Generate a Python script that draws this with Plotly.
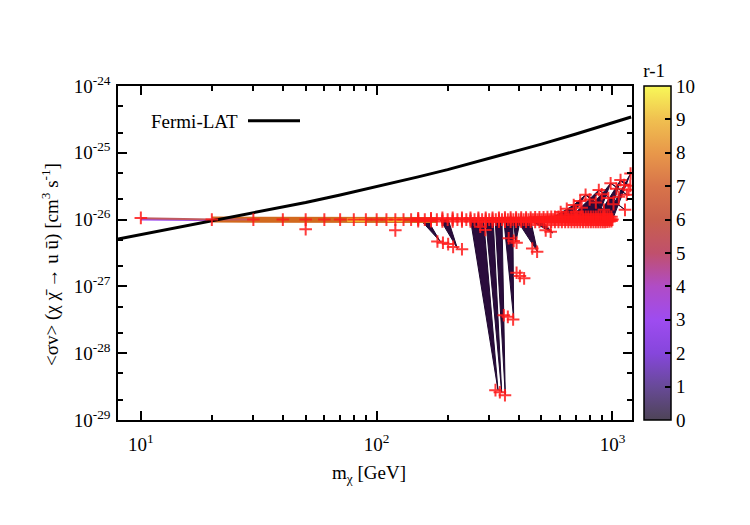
import plotly.graph_objects as go
import numpy as np

# ---------------- data ----------------
# Fermi-LAT limit
fermi_m = [8, 10, 20, 30, 50, 70, 100, 150, 200, 300, 500, 700, 1000, 1200]
fermi_sv = [5.13e-27, 5.96e-27, 9.55e-27, 1.26e-26, 1.80e-26, 2.33e-26, 3.09e-26, 4.36e-26,
            5.6e-26, 8.2e-26, 1.35e-25, 1.91e-25, 2.81e-25, 3.43e-25]

# band of scan points (relic-density line)
band_m = [10, 20, 30, 40, 50, 60, 70, 80, 90, 100, 110, 120, 130, 140, 150, 160, 170, 180, 190, 200,
          210, 220, 230, 240, 250, 260, 270, 280, 290, 300, 310, 320, 330, 340, 350, 360, 370, 380, 390, 400,
          410, 420, 430, 440, 450, 460, 470, 480, 490, 500, 510, 520, 530, 540, 550, 560, 570, 580, 590, 600,
          610, 620, 630, 640, 650, 660, 670, 680, 690, 700, 710, 720, 730, 740, 750, 760, 770, 780, 790, 800,
          810, 820, 830, 840, 850, 860, 870, 880, 890, 900, 910, 920, 930, 940, 950, 960, 970, 980, 990, 1000]
band_sv = [1.06e-26, 1.0e-26, 1.0e-26, 1.0e-26, 1.0e-26, 1.0e-26, 1.0e-26, 1.0e-26, 1.0e-26, 1.0e-26,
           1.0e-26, 1.0e-26, 1.0e-26, 1.0e-26, 1.0e-26, 1.0e-26, 1.0e-26, 1.0e-26, 1.0e-26, 1.0e-26,
           1.0e-26, 1.0e-26, 1.0e-26, 1.0e-26, 1.0e-26, 1.0e-26, 1.0e-26, 1.0e-26, 1.0e-26, 1.0e-26,
           1.0e-26, 1.0e-26, 1.0e-26, 1.0e-26, 1.0e-26, 1.0e-26, 1.0e-26, 1.0e-26, 1.0e-26, 1.0e-26,
           1.0e-26, 1.0e-26, 1.0e-26, 1.0e-26, 1.0e-26, 1.0e-26, 1.0e-26, 1.0e-26, 1.0e-26, 1.0e-26,
           1.0e-26, 1.0e-26, 1.0e-26, 1.0e-26, 1.0e-26, 1.0e-26, 1.0e-26, 1.0e-26, 1.0e-26, 1.0e-26,
           1.0e-26, 1.0e-26, 1.0e-26, 1.0e-26, 1.0e-26, 1.0e-26, 1.0e-26, 1.0e-26, 1.0e-26, 1.0e-26,
           1.0e-26, 1.0e-26, 1.0e-26, 1.0e-26, 1.0e-26, 1.0e-26, 1.0e-26, 1.0e-26, 1.0e-26, 1.0e-26,
           1.0e-26, 1.0e-26, 1.0e-26, 1.0e-26, 1.0e-26, 1.0e-26, 1.0e-26, 1.0e-26, 1.0e-26, 1.0e-26,
           1.0e-26, 1.0e-26, 1.0e-26, 1.0e-26, 1.0e-26, 1.0e-26, 1.0e-26, 1.0e-26, 1.0e-26, 1.0e-26]
# upper / lower edge of the thick part of the band
edge_m = [150, 170, 190, 210, 230, 250, 270, 290, 310, 330, 350, 370, 390, 410, 430, 450, 470, 490,
          510, 530, 550, 570, 590, 610, 630, 650, 670, 690, 710, 730, 750, 770, 790, 810, 830, 850,
          870, 890, 910, 930, 950, 970, 990]
edge_hi_sv = [1.05e-26, 1.05e-26, 1.06e-26, 1.06e-26, 1.06e-26, 1.06e-26, 1.06e-26, 1.06e-26, 1.06e-26,
              1.06e-26, 1.07e-26, 1.07e-26, 1.07e-26, 1.07e-26, 1.07e-26, 1.07e-26, 1.08e-26, 1.08e-26,
              1.08e-26, 1.09e-26, 1.1e-26, 1.1e-26, 1.1e-26, 1.1e-26, 1.1e-26, 1.1e-26, 1.1e-26, 1.1e-26,
              1.1e-26, 1.1e-26, 1.1e-26, 1.1e-26, 1.1e-26, 1.1e-26, 1.1e-26, 1.1e-26, 1.1e-26, 1.1e-26,
              1.1e-26, 1.1e-26, 1.1e-26, 1.1e-26, 1.1e-26]
edge_lo_sv = [0.95e-26, 0.95e-26, 0.94e-26, 0.94e-26, 0.94e-26, 0.94e-26, 0.93e-26, 0.93e-26, 0.93e-26,
              0.93e-26, 0.93e-26, 0.93e-26, 0.93e-26, 0.93e-26, 0.93e-26, 0.93e-26, 0.92e-26, 0.92e-26,
              0.92e-26, 0.92e-26, 0.92e-26, 0.92e-26, 0.92e-26, 0.92e-26, 0.92e-26, 0.92e-26, 0.92e-26,
              0.92e-26, 0.92e-26, 0.92e-26, 0.92e-26, 0.92e-26, 0.92e-26, 0.92e-26, 0.92e-26, 0.92e-26,
              0.92e-26, 0.92e-26, 0.92e-26, 0.92e-26, 0.93e-26, 0.94e-26, 0.95e-26]

# isolated scan points away from the band
low_m = [50, 120, 181, 191, 201, 211, 230, 275, 289, 319, 333, 350, 346, 360, 379, 363, 381, 392,
         392, 405, 422, 457, 479, 521, 547]
low_sv = [7.2e-27, 6.9e-27, 4.7e-27, 4.5e-27, 4.3e-27, 3.9e-27, 3.6e-27, 7.8e-27, 7.0e-27, 2.8e-29,
          2.6e-29, 2.35e-29, 3.7e-28, 3.5e-28, 3.2e-28, 5.25e-27, 4.8e-27, 4.5e-27, 1.6e-27, 1.43e-27,
          1.32e-27, 3.7e-27, 3.3e-27, 6.9e-27, 6.6e-27]

# high-mass fan of points above the band
fan_m = [603, 640, 685, 730, 769, 875, 982, 1082, 1193, 1150, 1064, 960, 1130, 850, 920, 1190, 1010,
         700, 740, 800, 900, 1040, 1120, 1170]
fan_sv = [1.3e-26, 1.45e-26, 1.65e-26, 1.9e-26, 2.35e-26, 2.77e-26, 3.5e-26, 3.9e-26, 4.9e-26,
          2.35e-26, 2.2e-26, 2.1e-26, 1.4e-26, 1.8e-26, 1.4e-26, 3.2e-26, 1.7e-26,
          1.3e-26, 1.5e-26, 2.0e-26, 2.4e-26, 2.9e-26, 3.3e-26, 2.8e-26]

# dark (r-1 ~ 0) wedges joining band points to low / high points
wedge_m = [[153, 164, 186], [186, 201, 220], [250, 284, 327], [290, 312, 339], [318, 340, 351],
           [346, 378, 381], [380, 407, 389], [392, 449, 481], [441, 497, 558],
           [540, 600, 685], [580, 660, 769], [650, 760, 875], [740, 860, 982],
           [850, 960, 1082], [930, 1000, 1193], [769, 800, 1000], [875, 900, 1130],
           [982, 1010, 1150], [1082, 1100, 1190], [560, 640, 730], [700, 800, 900]]
wedge_sv = [[1e-26, 1e-26, 4.7e-27], [1e-26, 1e-26, 3.7e-27], [1e-26, 1e-26, 2.8e-29],
            [1e-26, 1e-26, 2.6e-29], [1e-26, 1e-26, 2.4e-29], [1e-26, 1e-26, 3.3e-28],
            [1e-26, 1e-26, 4.6e-27], [1e-26, 1e-26, 3.3e-27], [1e-26, 1e-26, 6.3e-27],
            [1e-26, 1e-26, 1.65e-26], [1e-26, 1e-26, 2.35e-26], [1e-26, 1e-26, 2.77e-26],
            [1e-26, 1e-26, 3.5e-26], [1e-26, 1e-26, 3.9e-26], [1e-26, 1e-26, 4.9e-26],
            [2.35e-26, 2.2e-26, 1.0e-26], [2.77e-26, 2.6e-26, 1.4e-26],
            [3.5e-26, 3.3e-26, 2.35e-26], [3.9e-26, 3.6e-26, 3.2e-26],
            [1e-26, 1e-26, 1.9e-26], [1e-26, 1e-26, 2.4e-26]]

# coloured low-mass curves (value of r-1 for each)
curve_r = [2.5, 6.5, 4.5, 8.8, 8.8]
curve_m = [[10, 20, 30, 40, 50, 60, 70, 80, 90, 100, 110, 120, 130, 140, 150, 160, 170, 180],
           [20, 30, 40, 50, 60, 70, 80, 90, 100, 110, 120, 130, 140, 150, 160, 170, 180],
           [10, 20, 30],
           [75, 80, 90],
           [110, 120, 130]]
curve_sv = [[1.0e-26, 0.97e-26, 0.96e-26, 0.96e-26, 0.96e-26, 0.96e-26, 0.955e-26, 0.955e-26, 0.955e-26,
             0.955e-26, 0.95e-26, 0.95e-26, 0.95e-26, 0.95e-26, 0.95e-26, 0.95e-26, 0.95e-26, 0.95e-26],
            [1.0e-26, 0.99e-26, 0.99e-26, 0.99e-26, 0.99e-26, 0.99e-26, 0.99e-26, 0.99e-26, 0.99e-26,
             0.99e-26, 0.99e-26, 0.99e-26, 0.99e-26, 0.99e-26, 0.99e-26, 0.99e-26, 0.99e-26],
            [1.05e-26, 1.0e-26, 1.0e-26],
            [0.99e-26, 0.99e-26, 0.99e-26],
            [0.99e-26, 0.99e-26, 0.99e-26]]
curve_w = [2, 6, 2, 4, 4]
curve_col = ["#9a48ee", "#d2691e", "#c05a60", "#f0c030", "#f0c030"]

# colour bar palette (r-1 from 0 to 10)
cb_vals = [0, 1, 2, 3, 4, 5, 6, 7, 8, 9, 10]
cb_cols = ["#4e4457", "#684a98", "#8646dc", "#9e4cf0", "#b04cc6", "#c0506c", "#c8604c",
           "#d8744a", "#e8984a", "#f0c050", "#f8f858"]

x_tick_vals = [10, 100, 1000]
x_tick_text = ["10<sup>1</sup>", "10<sup>2</sup>", "10<sup>3</sup>"]
y_tick_vals = [1e-29, 1e-28, 1e-27, 1e-26, 1e-25, 1e-24]
y_tick_text = ["10<sup>-29</sup>", "10<sup>-28</sup>", "10<sup>-27</sup>", "10<sup>-26</sup>",
               "10<sup>-25</sup>", "10<sup>-24</sup>"]

# ---------------- figure ----------------
FONT = "Liberation Serif, Times New Roman, Tinos, DejaVu Serif, serif"
colorscale = [[v / 10, c] for v, c in zip(cb_vals, cb_cols)]

fig = go.Figure()

# dark wedges
for ms, ss in zip(wedge_m, wedge_sv):
    fig.add_trace(go.Scatter(x=ms + [ms[0]], y=ss + [ss[0]], mode="lines", fill="toself",
                             fillcolor="#2a0c3c", line=dict(color="#1e0830", width=1),
                             hoverinfo="skip", showlegend=False))

# coloured curves
for ms, ss, c, w in zip(curve_m, curve_sv, curve_col, curve_w):
    fig.add_trace(go.Scatter(x=ms, y=ss, mode="lines", line=dict(color=c, width=w),
                             hoverinfo="skip", showlegend=False))

# Fermi-LAT
fig.add_trace(go.Scatter(x=fermi_m, y=fermi_sv, mode="lines", line=dict(color="black", width=3),
                         name="Fermi-LAT", showlegend=False))

mk = dict(symbol="cross-thin", size=9, line=dict(color="rgba(255,25,25,0.85)", width=2))
for xs, ys in [(band_m, band_sv), (edge_m, edge_hi_sv), (edge_m, edge_lo_sv),
               (low_m, low_sv), (fan_m, fan_sv)]:
    fig.add_trace(go.Scatter(x=xs, y=ys, mode="markers", marker=mk, hoverinfo="skip",
                             showlegend=False))

# colour bar holder
fig.add_trace(go.Scatter(
    x=[20], y=[1e-30], mode="markers", showlegend=False, hoverinfo="skip",
    marker=dict(size=0.1, color=[0], cmin=0, cmax=10, colorscale=colorscale, showscale=True,
                colorbar=dict(
                    x=(644 - 118) / 514, xanchor="left", xpad=0, y=0, yanchor="bottom", ypad=0,
                    thickness=27, len=360, lenmode="pixels",
                    outlinecolor="black", outlinewidth=1.5,
                    tickvals=cb_vals, ticktext=[str(v) for v in cb_vals],
                    tickprefix="\u00a0\u00a0\u00a0\u00a0",
                    ticks="inside", ticklen=6, tickcolor="black", tickwidth=1.5,
                    tickfont=dict(family=FONT, size=19, color="black"),
                    title=dict(text="r-1", side="top", font=dict(family=FONT, size=19, color="black")),
                ))))

axis_common = dict(showline=True, mirror="allticks", linecolor="black", linewidth=1.5,
                   ticks="inside", tickcolor="black", tickwidth=1.5, ticklen=9,
                   showgrid=False, zeroline=False,
                   tickfont=dict(family=FONT, size=19, color="black"))

x_minor = [20, 30, 40, 50, 60, 70, 80, 90, 200, 300, 400, 500, 600, 700, 800, 900]
y_minor = [2e-29, 5e-29, 2e-28, 5e-28, 2e-27, 5e-27, 2e-26, 5e-26, 2e-25, 5e-25]

fig.update_xaxes(type="log", range=[np.log10(8), np.log10(1210)],
                 tickvals=x_tick_vals, ticktext=x_tick_text, ticklabelstandoff=6,
                 minor=dict(tickvals=x_minor, ticks="inside", ticklen=5, tickcolor="black",
                            tickwidth=1.5),
                 **axis_common)
fig.update_yaxes(type="log", range=[-29, -24],
                 tickvals=y_tick_vals, ticktext=y_tick_text, ticklabelstandoff=2,
                 minor=dict(tickvals=y_minor, ticks="inside", ticklen=5, tickcolor="black",
                            tickwidth=1.5),
                 **axis_common)

fig.add_annotation(text="&lt;σv&gt; (χ χ\u0304 → u u\u0304) [cm<sup>3</sup> s<sup>-1</sup>]",
                   xref="paper", yref="paper", x=(50 - 118) / 514, y=(420 - 265) / 334,
                   textangle=-90, showarrow=False, xanchor="center", yanchor="middle",
                   font=dict(family=FONT, size=19, color="black"))
fig.add_annotation(text="m<sub>χ</sub> [GeV]", xref="paper", yref="paper",
                   x=(369 - 118) / 514, y=(420 - 474) / 334, showarrow=False,
                   xanchor="center", yanchor="middle", font=dict(family=FONT, size=19, color="black"))

# key
fig.add_annotation(text="Fermi-LAT", xref="paper", yref="paper", x=(149 - 118) / 514,
                   y=(420 - 121.5) / 334, showarrow=False, xanchor="left", yanchor="middle",
                   font=dict(family=FONT, size=19, color="black"))
fig.add_shape(type="line", xref="paper", yref="paper", x0=(248 - 118) / 514, x1=(300 - 118) / 514,
              y0=(420 - 120.7) / 334, y1=(420 - 120.7) / 334, line=dict(color="black", width=3))

fig.update_layout(width=750, height=525, margin=dict(l=118, r=118, t=86, b=105),
                  paper_bgcolor="white", plot_bgcolor="white", showlegend=False,
                  font=dict(family=FONT, size=19, color="black"))

fig.write_html("out.html")
